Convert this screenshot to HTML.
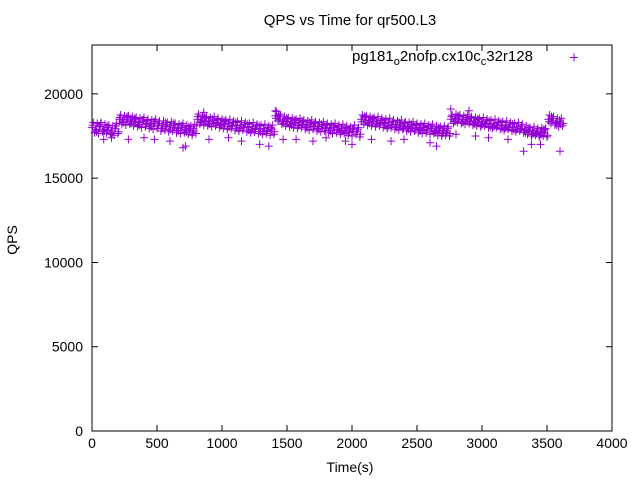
<!DOCTYPE html>
<html><head><meta charset="utf-8"><style>
body{margin:0;background:#fff}
svg{display:block;font-family:"Liberation Sans",sans-serif}
</style></head><body>
<svg id="chart" width="640" height="480">
<rect width="640" height="480" fill="#fff"/>
<text x="350" y="25" text-anchor="middle" font-size="15">QPS vs Time for qr500.L3</text>
<text transform="translate(17,240) rotate(-90)" text-anchor="middle" font-size="14">QPS</text>
<text x="350" y="472" text-anchor="middle" font-size="14">Time(s)</text>
<g id="axes"></g>
<g id="marks"></g>
<g>
<text x="352" y="61" font-size="15">pg181<tspan font-size="11" dy="4">o</tspan><tspan dy="-4">2nofp.cx10c</tspan><tspan font-size="11" dy="4">c</tspan><tspan dy="-4">32r128</tspan></text>
<path d="M570,57.5h8M574,53.5v8" stroke="#9400d3" stroke-width="1"/>
</g>
</svg>
<script>
const xTicks=[0,500,1000,1500,2000,2500,3000,3500,4000];
const yTicks=[0,5000,10000,15000,20000];
const qpsMid=[18000,17900,18050,17900,17850,17800,17950,
18500,18450,18500,18400,18350,18300,18350,18250,18200,18250,18100,18150,18050,18100,18000,17950,18000,17900,17850,17950,
18500,18450,18400,18350,18400,18300,18250,18200,18250,18150,18100,18150,18050,18000,18050,17950,17900,17950,17850,17900,
18700,18500,18400,18350,18300,18250,18300,18200,18150,18200,18100,18050,18100,18000,17950,18000,17900,17950,17850,17800,17900,17750,
18500,18450,18400,18350,18400,18300,18250,18300,18200,18150,18200,18100,18050,18100,18000,17950,18000,17900,17950,17850,17800,17850,17800,
18500,18550,18500,18450,18500,18400,18350,18300,18350,18250,18200,18250,18150,18100,18150,18050,18000,18050,17950,17850,17750,17800,17700,17750,17700,
18500,18400,18300,18350];
const qpsHigh=[18300,18250,18300,18200,18150,18100,18250,
18750,18700,18700,18650,18600,18550,18600,18500,18450,18500,18400,18400,18300,18350,18250,18200,18250,18150,18100,18200,
18800,18700,18650,18600,18650,18550,18500,18450,18500,18400,18350,18400,18300,18250,18300,18200,18150,18200,18100,18150,
18950,18750,18650,18600,18550,18500,18550,18450,18400,18450,18350,18300,18350,18250,18200,18250,18150,18200,18100,18050,18150,18000,
18750,18700,18650,18600,18650,18550,18500,18550,18450,18400,18450,18350,18300,18350,18250,18200,18250,18150,18200,18100,18050,18100,18050,
18750,18800,18750,18700,18750,18650,18600,18550,18600,18500,18450,18500,18400,18350,18400,18300,18250,18300,18200,18100,18000,18050,17950,18000,17950,
18750,18650,18550,18550];
const qpsLow=[17700,17650,17750,17650,17600,17550,17650,
18200,18150,18200,18100,18050,18000,18050,17950,17900,17950,17800,17850,17750,17800,17700,17650,17700,17600,17550,17650,
18200,18150,18100,18050,18100,18000,17950,17900,17950,17850,17800,17850,17750,17700,17750,17650,17600,17650,17550,17600,
18400,18200,18100,18050,18000,17950,18000,17900,17850,17900,17800,17750,17800,17700,17650,17700,17600,17650,17550,17500,17600,17450,
18200,18150,18100,18050,18100,18000,17950,18000,17900,17850,17900,17800,17750,17800,17700,17650,17700,17600,17650,17550,17500,17550,17500,
18250,18300,18250,18200,18250,18150,18100,18050,18100,18000,17950,18000,17900,17850,17900,17800,17750,17800,17700,17600,17500,17550,17450,17500,17450,
18250,18150,18050,18100];
const qpsExtraA=[18150,17750,18200,17800,18000,17650,18100,
18600,18300,18650,18250,18500,18150,18450,18400,18050,18350,18250,17950,18200,17900,18150,17800,18100,17750,17950,17800,
18650,18300,18550,18200,18250,18450,18100,18350,18050,18300,17950,18000,18200,17850,17900,18100,17750,17800,18000,17750,
18550,18650,18250,18500,18150,18400,18150,18350,18000,18050,18250,17900,17950,18150,17800,17850,18050,17800,17700,17950,17750,17900,
18350,18600,18250,18500,18250,18450,18100,18150,18350,18000,18050,18250,17900,17950,18150,17800,17850,18050,17800,17700,17950,17700,17950,
18650,18400,18650,18300,18350,18550,18200,18450,18200,18400,18050,18100,18300,17950,18000,18200,17850,17900,18100,17700,17900,17650,17850,17600,17850,
18350,18550,18150,18200];
const qpsExtraB=[17850,18100,17800,18100,17700,17950,17750,
18350,18600,18350,18550,18200,18450,18200,18100,18350,18100,17950,18300,17900,18250,17850,18100,17850,18050,17700,18100,
18350,18600,18250,18500,18200,18150,18400,18050,18100,18300,17950,18000,18200,17850,17900,18100,17750,17800,18000,17750,
18800,18350,18550,18200,18450,18100,18400,18050,18300,18050,17950,18200,17950,17850,18100,17850,17750,18000,17700,17950,17750,17600,
18650,18300,18550,18200,18200,18400,18050,18150,18050,18300,17950,18000,18200,17850,17900,18100,17800,18050,17750,18000,17650,17700,17650,
18350,18700,18350,18600,18350,18250,18500,18150,18200,18400,18050,18100,18300,17950,18000,18200,17900,17900,17800,18000,17600,17650,17550,17900,17550,
18650,18250,18450,18250];
const outTime=[90,150,280,400,480,600,700,720,900,1050,1150,1290,1360,1470,1570,1700,1800,1950,2000,2150,2300,2400,2600,2650,2800,2950,3050,3200,3320,3380,3450,3600,2760,2900,1410,860];
const outQps=[17300,17400,17300,17400,17300,17200,16800,16900,17300,17400,17200,17000,16900,17300,17300,17200,17400,17200,17000,17300,17200,17300,17100,16900,17600,17500,17400,17300,16600,17000,17000,16600,19100,19000,19000,18900];
const X0=92,X1=612,Y0=431,Y1=45,XMAX=4000,YMAX=22900;
const sx=v=>X0+(X1-X0)*v/XMAX, sy=v=>Y0-(Y0-Y1)*v/YMAX;
const NS="http://www.w3.org/2000/svg";
const axes=document.getElementById('axes'),marks=document.getElementById('marks');
function mk(tag,attrs,parent){const e=document.createElementNS(NS,tag);for(const k in attrs)e.setAttribute(k,attrs[k]);parent.appendChild(e);return e;}
const frame=mk('rect',{x:X0,y:Y1,width:X1-X0,height:Y0-Y1,fill:'none',stroke:'#000','stroke-width':1},axes);


xTicks.forEach(t=>{const x=sx(t);
 mk('path',{d:`M${x},${Y0}v-6M${x},${Y1}v6`,stroke:'#000'},axes);
 const tx=mk('text',{x:x,y:Y0+17,'text-anchor':'middle','font-size':14},axes);tx.textContent=t;
 
 
});
yTicks.forEach(t=>{const y=sy(t);
 mk('path',{d:`M${X0},${y}h6M${X1},${y}h-6`,stroke:'#000'},axes);
 const tx=mk('text',{x:X0-9,y:y+5,'text-anchor':'end','font-size':14},axes);tx.textContent=t;
 
 
});
let d='';
function plus(t,v){const x=sx(t),y=sy(v);d+=`M${(x-4).toFixed(1)},${y.toFixed(1)}h8M${x.toFixed(1)},${(y-4).toFixed(1)}v8`;}
qpsMid.forEach((v,i)=>plus(i*30,v));
qpsHigh.forEach((v,i)=>plus(i*30+10,v));
qpsLow.forEach((v,i)=>plus(i*30+20,v));
qpsExtraA.forEach((v,i)=>plus(i*30+5,v));
qpsExtraB.forEach((v,i)=>plus(i*30+25,v));
outTime.forEach((t,i)=>plus(t,outQps[i]));
const p=mk('path',{d:d,stroke:'#9400d3','stroke-width':1,fill:'none'},marks);


</script>
</body></html>
